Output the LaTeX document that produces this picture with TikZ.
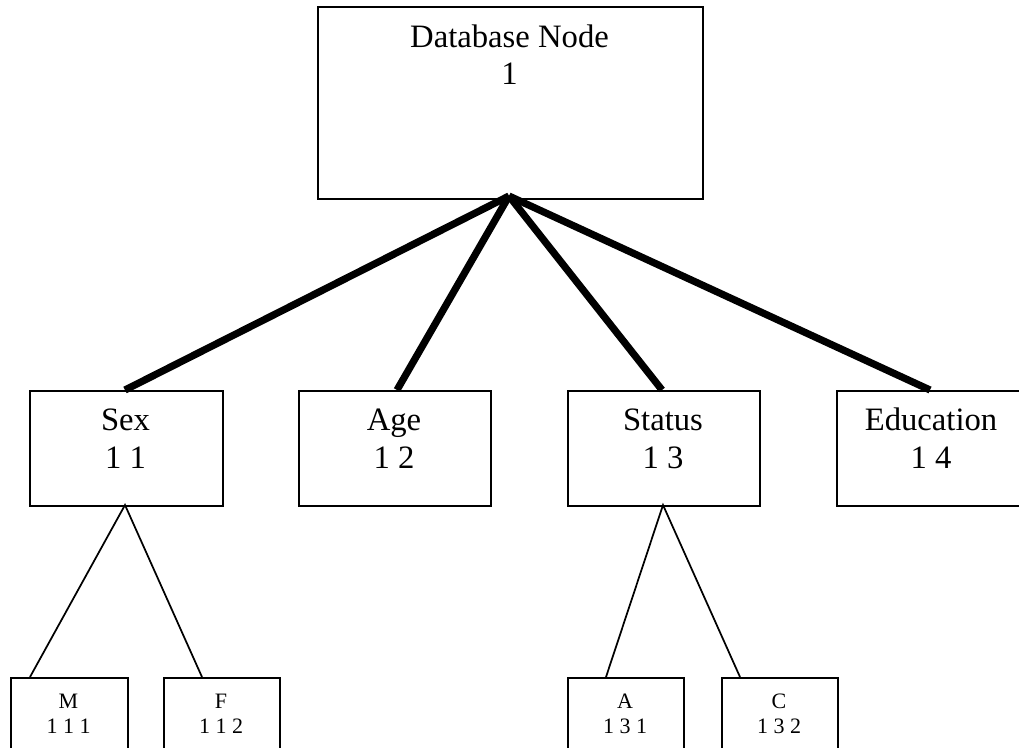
\documentclass[tikz,border=0pt]{standalone}
\usepackage{fontspec}
\setmainfont{Liberation Serif}
\usetikzlibrary{calc}
\tikzset{
  box/.style={draw, line width=1.3pt, inner sep=0pt, anchor=north west},
  big/.style={anchor=base, inner sep=0pt, font=\fontsize{24.5}{28}\selectfont},
  small/.style={anchor=base, inner sep=0pt, font=\fontsize{16.5}{19}\selectfont},
  thick link/.style={line width=5.4pt},
  thin link/.style={line width=1.3pt}
}
\begin{document}
\begin{tikzpicture}[x=0.75pt,y=-0.75pt]
\useasboundingbox (0,0) rectangle (1019,748);
\clip (0,0) rectangle (1019,748);
% boxes
\node[box, minimum width=288.75pt, minimum height=144pt] (db) at (317,6) {};
\node[box, minimum width=144.75pt, minimum height=86.25pt] (sex) at (29,390) {};
\node[box, minimum width=144pt, minimum height=86.25pt] (age) at (298,390) {};
\node[box, minimum width=144pt, minimum height=86.25pt] (status) at (567,390) {};
\node[box, minimum width=144.75pt, minimum height=86.25pt] (edu) at (836,390) {};
\node[box, minimum width=87.75pt, minimum height=70pt] (m) at (10,677) {};
\node[box, minimum width=87pt, minimum height=70pt] (f) at (163,677) {};
\node[box, minimum width=87pt, minimum height=70pt] (a) at (567,677) {};
\node[box, minimum width=87pt, minimum height=70pt] (c) at (721,677) {};
% texts
\node[big] (dbA) at (509.5,48) {Database Node};
\node[big] (dbB) at (509.5,85) {1};
\node[big] (sexA) at (125.5,430) {Sex};
\node[big] (sexB) at (125.5,468) {1 1};
\node[big] (ageA) at (394,430) {Age};
\node[big] (ageB) at (394,468) {1 2};
\node[big] (statusA) at (663,430) {Status};
\node[big] (statusB) at (663,468) {1 3};
\node[big] (eduA) at (931,430) {Education};
\node[big] (eduB) at (931,468) {1 4};
\node[small] (mA) at (68.5,708) {M};
\node[small] (mB) at (68.5,733) {1 1 1};
\node[small] (fA) at (221,708) {F};
\node[small] (fB) at (221,733) {1 1 2};
\node[small] (aA) at (625,708) {A};
\node[small] (aB) at (625,733) {1 3 1};
\node[small] (cA) at (779,708) {C};
\node[small] (cB) at (779,733) {1 3 2};
% connector end points
\coordinate (hub) at (509,196);
\coordinate (sexT) at (125,390);
\coordinate (ageT) at (397,390);
\coordinate (statusT) at (662,390);
\coordinate (eduT) at (930,390);
\coordinate (sexV) at (125,505);
\coordinate (statusV) at (663,505);
\coordinate (mT) at (30,677);
\coordinate (fT) at (202,677);
\coordinate (aT) at (606,677);
\coordinate (cT) at (740,677);
% thick connectors
\draw[thick link] (hub) -- (sexT);
\draw[thick link] (hub) -- (ageT);
\draw[thick link] (hub) -- (statusT);
\draw[thick link] (hub) -- (eduT);
% thin connectors
\draw[thin link] (mT) -- (sexV) -- (fT);
\draw[thin link] (aT) -- (statusV) -- (cT);
\end{tikzpicture}
\end{document}
